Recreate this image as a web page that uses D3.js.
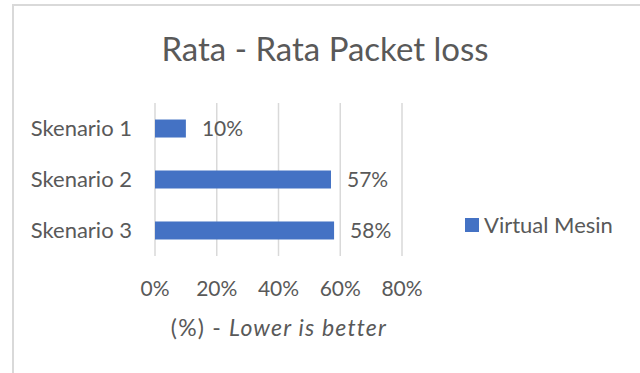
<!DOCTYPE html>
<html>
<head>
<meta charset="utf-8">
<script src="https://cdn.jsdelivr.net/npm/d3@7"></script>
<style>
  html, body { margin: 0; padding: 0; background: #fff; }
  text { font-family: Lato, "Open Sans", sans-serif; fill: #595959; }
</style>
</head>
<body>
<div id="chart"></div>
<script>
// chart data
var categories = ["Skenario 1", "Skenario 2", "Skenario 3"];
var values = [0.10, 0.57, 0.58];
var ticks = [0, 0.2, 0.4, 0.6, 0.8];
var seriesName = "Virtual Mesin";
var title = "Rata - Rata Packet loss";

var width = 640, height = 373;
var barColor = "#4472c4";
var gridColor = "#d9d9d9";

var svg = d3.select("#chart").append("svg")
    .attr("width", width)
    .attr("height", height);

// outer chart border (runs off the right and bottom)
svg.append("rect")
    .attr("x", 13).attr("y", 5)
    .attr("width", 700).attr("height", 500)
    .attr("fill", "#fff")
    .attr("stroke", gridColor)
    .attr("stroke-width", 2);

var x = d3.scaleLinear().domain([0, 0.8]).range([155, 402]);
var y = d3.scaleBand().domain(categories).range([103, 256])
    .paddingInner(0.647).paddingOuter(0.324);

// gridlines
svg.selectAll(".grid")
    .data(ticks)
    .enter().append("line")
    .attr("x1", function(d) { return x(d); })
    .attr("x2", function(d) { return x(d); })
    .attr("y1", 103).attr("y2", 256)
    .attr("stroke", gridColor)
    .attr("stroke-width", 1.5);

// bars
svg.selectAll(".bar")
    .data(values)
    .enter().append("rect")
    .attr("x", x(0))
    .attr("y", function(d, i) { return y(categories[i]); })
    .attr("width", function(d) { return x(d) - x(0); })
    .attr("height", y.bandwidth())
    .attr("fill", barColor);

// value labels
svg.selectAll(".val")
    .data(values)
    .enter().append("text")
    .attr("x", function(d) { return x(d) + 16; })
    .attr("y", function(d, i) { return y(categories[i]) + y.bandwidth() / 2; })
    .attr("dy", "0.35em")
    .attr("font-size", "21px")
    .text(function(d) { return Math.round(d * 100) + "%"; });

// category labels
svg.selectAll(".cat")
    .data(categories)
    .enter().append("text")
    .attr("x", 132)
    .attr("y", function(d) { return y(d) + y.bandwidth() / 2; })
    .attr("dy", "0.35em")
    .attr("text-anchor", "end")
    .attr("font-size", "22px")
    .text(function(d) { return d; });

// x axis tick labels
svg.selectAll(".tick")
    .data(ticks)
    .enter().append("text")
    .attr("x", function(d) { return x(d); })
    .attr("y", 289)
    .attr("dy", "0.35em")
    .attr("text-anchor", "middle")
    .attr("font-size", "21px")
    .text(d3.format(".0%"));

// axis title
var axisTitle = svg.append("text")
    .attr("x", 279).attr("y", 328)
    .attr("dy", "0.35em")
    .attr("text-anchor", "middle")
    .attr("font-size", "23px")
    .attr("letter-spacing", "1.2px");
axisTitle.append("tspan").text("(%) - ");
axisTitle.append("tspan").attr("font-style", "italic").text("Lower is better");

// chart title
svg.append("text")
    .attr("x", 325).attr("y", 49)
    .attr("dy", "0.35em")
    .attr("text-anchor", "middle")
    .attr("font-size", "33px")
    .text(title);

// legend
svg.append("rect")
    .attr("x", 465).attr("y", 218)
    .attr("width", 14).attr("height", 14)
    .attr("fill", barColor);
svg.append("text")
    .attr("x", 484).attr("y", 225)
    .attr("dy", "0.35em")
    .attr("font-size", "22px")
    .text(seriesName);
</script>
</body>
</html>
